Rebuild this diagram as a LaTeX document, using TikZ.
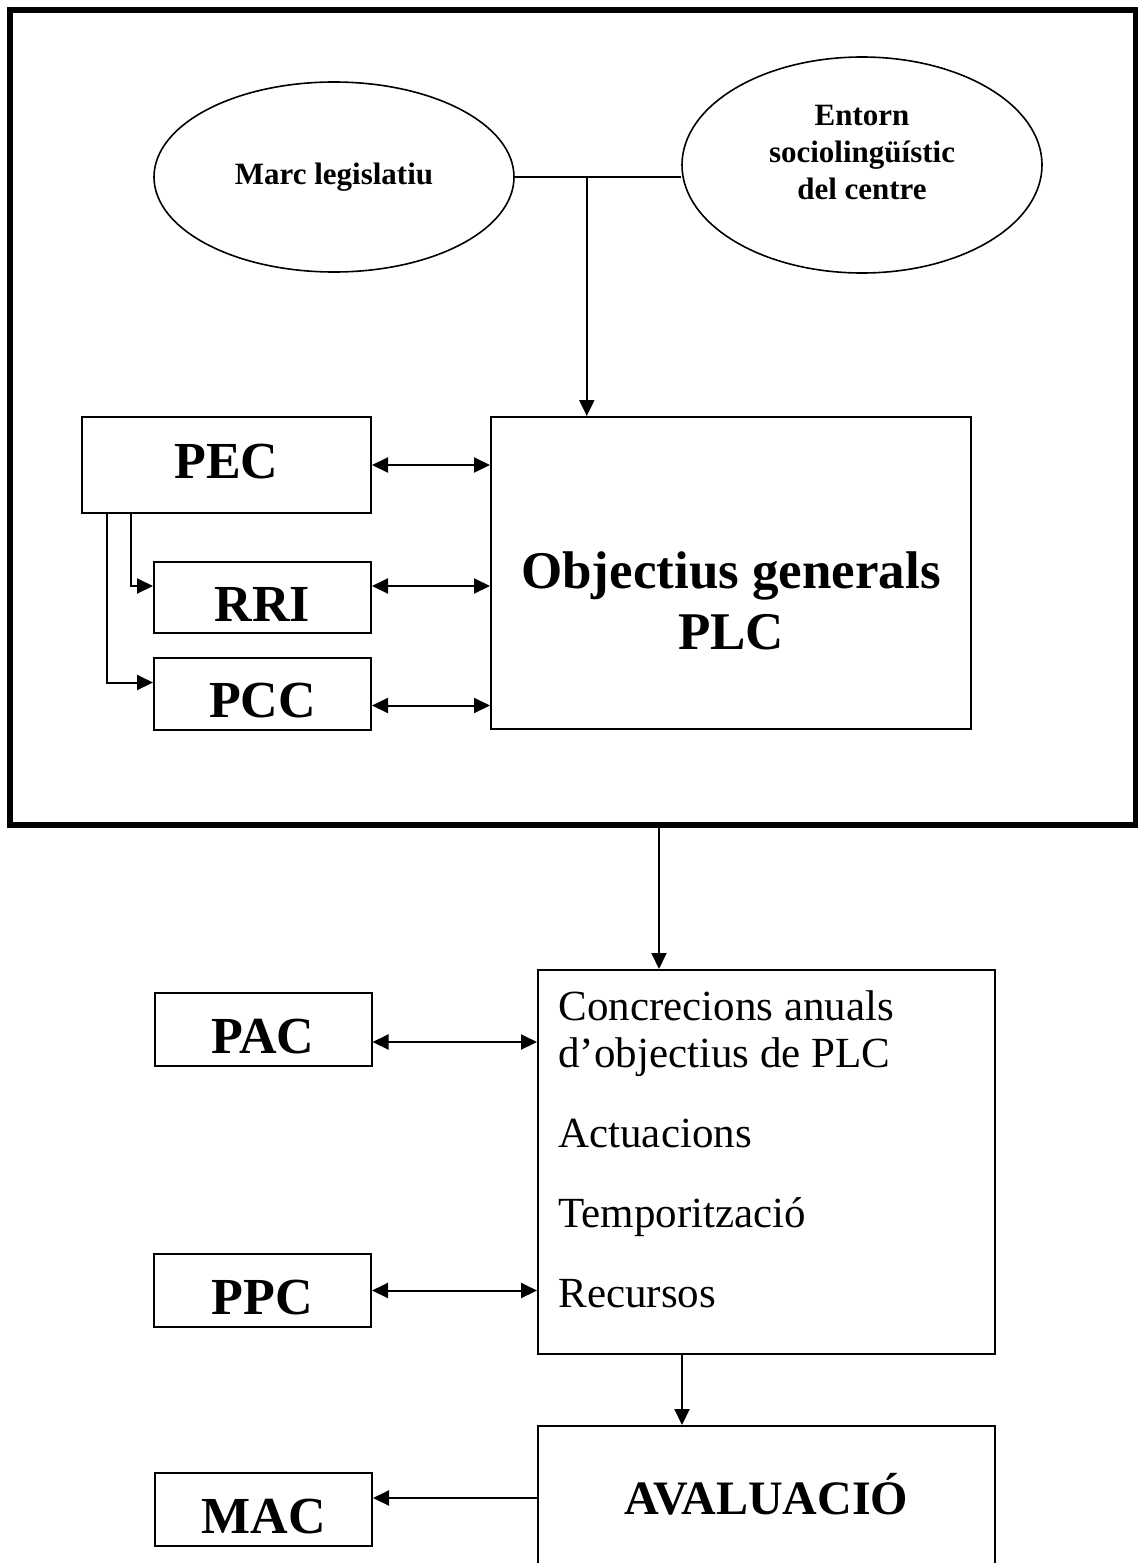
\documentclass[tikz,border=0pt]{standalone}
\usepackage{fontspec}
\setmainfont{Liberation Serif}
\usetikzlibrary{positioning,shapes.geometric,arrows.meta,calc}

\tikzset{
  oval/.style={ellipse, draw=black, line width=0.8pt, inner sep=0pt, align=center, font=\fontsize{15.5}{18.5}\selectfont\bfseries},
  smallbox/.style={rectangle, draw=black, line width=1pt, minimum width=108.5pt, minimum height=36.5pt, inner sep=0pt, text height=23.6pt, text depth=0pt, font=\fontsize{26}{30}\selectfont\bfseries},
  bigbox/.style={rectangle, draw=black, line width=1pt, inner sep=0pt},
  arr/.style={-{Triangle[length=8pt,width=7.5pt]}, line width=1pt},
  dbl/.style={{Triangle[length=8pt,width=7.5pt]}-{Triangle[length=8pt,width=7.5pt]}, line width=1pt}
}

\begin{document}
\begin{tikzpicture}[x=0.5pt, y=-0.5pt, node distance=48pt]
\useasboundingbox (0,0) rectangle (1138,1563);

% outer frame
\node (frame) [rectangle, draw=black, line width=3pt, minimum width=563pt, minimum height=407.5pt, inner sep=0pt] at (573,417.5) {};

\node (marc) [oval, minimum width=180pt, minimum height=95pt] at (334,177) {Marc legislatiu};
\node (entorn) [oval, minimum width=180pt, minimum height=108pt, right of=marc, xshift=216pt, yshift=6pt] {};
\node (entorntxt) [align=center, font=\fontsize{15.5}{18.5}\selectfont\bfseries] at ([yshift=6.25pt]entorn.center) {Entorn\\sociolingüístic\\del centre};

\node (obj) [bigbox, minimum width=240pt, minimum height=156pt] at (731,573) {};
\node (objtxt) [align=center, font=\fontsize{26.5}{30.5}\selectfont\bfseries] at ([yshift=-14pt]obj.center) {Objectius generals\\PLC};
\node (pec) [smallbox, minimum width=144.5pt, minimum height=48pt, text height=13pt, left of=obj, xshift=-204.25pt, yshift=54pt] {PEC};
\node (rri) [smallbox, minimum height=35.5pt, below of=pec, xshift=18pt, yshift=-18.25pt] {RRI};
\node (pcc) [smallbox, minimum height=36pt, below of=rri] {PCC};

\node (concr) [bigbox, minimum width=228.5pt, minimum height=192pt] at (766.5,1162) {};
\node (concrtxt) [anchor=north west, align=left, inner sep=0pt, font=\fontsize{21.5}{23.5}\selectfont] at ([xshift=10.5pt,yshift=-10.8pt]concr.north west) {Concrecions anuals\\d’objectius de PLC\\[16.5pt]Actuacions\\[16.5pt]Temporització\\[16.5pt]Recursos};
\node (pac) [smallbox, left of=concr, xshift=-203.75pt, yshift=66.25pt] {PAC};
\node (ppc) [smallbox, left of=concr, xshift=-204pt, yshift=-64.25pt] {PPC};

\node (aval) [bigbox, minimum width=228.5pt, minimum height=72pt, text height=16pt, text depth=0pt, font=\fontsize{24}{28}\selectfont\bfseries, below of=concr, yshift=-120pt] {AVALUACIÓ};
\node (mac) [smallbox, left of=aval, xshift=-203.5pt, yshift=-5.75pt] {MAC};

% connectors
\coordinate (junc) at ([xshift=36pt]marc.east);
\draw[line width=1pt] (marc.east) -- (marc.east -| entorn.west);
\draw[arr] (junc) -- (junc |- obj.north);

\draw[dbl] (pec.east) -- (pec.east -| obj.west);
\draw[dbl] ($(rri.east)+(0,5.75pt)$) -- ($(rri.east -| obj.west)+(0,5.75pt)$);
\draw[dbl] ($(pcc.east)+(0,-6pt)$) -- ($(pcc.east -| obj.west)+(0,-6pt)$);
\draw[arr] ([xshift=-47.75pt]pec.south) |- ($(rri.west)+(0,5.75pt)$);
\draw[arr] ([xshift=-59.75pt]pec.south) |- ($(pcc.west)+(0,5.5pt)$);

\coordinate (concrin) at ([xshift=-53.75pt]concr.north);
\draw[arr] (frame.south -| concrin) -- (concrin);
\draw[dbl] ($(pac.east)+(0,-6.25pt)$) -- ($(pac.east -| concr.west)+(0,-6.25pt)$);
\draw[dbl] (ppc.east) -- (ppc.east -| concr.west);
\draw[arr] ([xshift=-42.25pt]concr.south) -- ([xshift=-42.25pt]aval.north);
\draw[arr] (aval.west) -- (aval.west -| mac.east);
\end{tikzpicture}
\end{document}
